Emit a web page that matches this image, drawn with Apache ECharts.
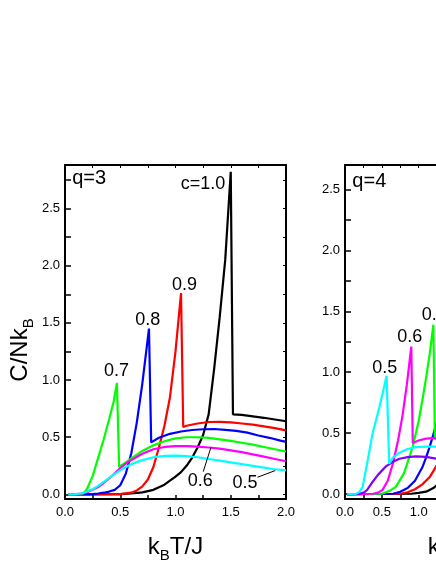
<!DOCTYPE html>
<html><head><meta charset="utf-8">
<script src="https://cdn.jsdelivr.net/npm/echarts@6/dist/echarts.min.js"></script>
<style>html,body{margin:0;padding:0;background:#fff}#c{width:436px;height:564px}</style>
</head><body><div id="c"></div>
<script>
// ---------- q = 3 panel (left) ----------
const T3_10 = [0.03, 0.5, 0.6, 0.7, 0.8, 0.9, 1.0, 1.05, 1.1, 1.15, 1.2, 1.25, 1.3, 1.35, 1.4, 1.45, 1.5, 1.52, 1.6, 1.7, 1.8, 1.9, 2.0];
const C3_10 = [0, 0.002, 0.008, 0.018, 0.04, 0.085, 0.155, 0.195, 0.25, 0.32, 0.41, 0.52, 0.70, 1.10, 1.55, 2.05, 2.82, 0.70, 0.695, 0.683, 0.67, 0.655, 0.64];
const T3_09 = [0.03, 0.5, 0.6, 0.65, 0.7, 0.75, 0.8, 0.85, 0.9, 0.95, 1.0, 1.05, 1.07, 1.1, 1.2, 1.3, 1.4, 1.5, 1.6, 1.7, 1.8, 1.9, 2.0];
const C3_09 = [0, 0.003, 0.015, 0.035, 0.07, 0.13, 0.24, 0.41, 0.6, 0.85, 1.25, 1.76, 0.59, 0.60, 0.62, 0.633, 0.635, 0.63, 0.62, 0.61, 0.595, 0.58, 0.56];
const T3_08 = [0.03, 0.25, 0.3, 0.35, 0.4, 0.45, 0.5, 0.55, 0.6, 0.65, 0.7, 0.76, 0.78, 0.85, 0.95, 1.05, 1.15, 1.25, 1.35, 1.45, 1.55, 1.65, 1.75, 1.85, 1.95, 2.0];
const C3_08 = [0, 0.003, 0.008, 0.015, 0.025, 0.04, 0.08, 0.18, 0.36, 0.63, 0.97, 1.45, 0.455, 0.495, 0.53, 0.55, 0.563, 0.57, 0.572, 0.565, 0.555, 0.54, 0.515, 0.495, 0.47, 0.46];
const T3_07 = [0.03, 0.15, 0.17, 0.2, 0.25, 0.3, 0.35, 0.4, 0.44, 0.47, 0.49, 0.55, 0.6, 0.7, 0.8, 0.9, 1.0, 1.1, 1.2, 1.3, 1.4, 1.5, 1.6, 1.7, 1.8, 1.9, 2.0];
const C3_07 = [0, 0.003, 0.01, 0.05, 0.16, 0.32, 0.48, 0.66, 0.81, 0.975, 0.24, 0.28, 0.315, 0.38, 0.43, 0.465, 0.49, 0.50, 0.50, 0.495, 0.482, 0.468, 0.452, 0.435, 0.415, 0.395, 0.375];
const T3_06 = [0.03, 0.1, 0.15, 0.2, 0.25, 0.3, 0.35, 0.4, 0.45, 0.5, 0.55, 0.6, 0.7, 0.8, 0.9, 1.0, 1.1, 1.2, 1.3, 1.4, 1.5, 1.6, 1.7, 1.8, 1.9, 2.0];
const C3_06 = [0, 0.002, 0.008, 0.02, 0.04, 0.065, 0.10, 0.14, 0.185, 0.23, 0.27, 0.30, 0.355, 0.395, 0.415, 0.422, 0.423, 0.418, 0.41, 0.40, 0.385, 0.37, 0.35, 0.33, 0.31, 0.29];
const T3_05 = [0.03, 0.1, 0.15, 0.2, 0.25, 0.3, 0.35, 0.4, 0.45, 0.5, 0.55, 0.6, 0.7, 0.8, 0.9, 1.0, 1.1, 1.2, 1.3, 1.4, 1.5, 1.6, 1.7, 1.8, 1.9, 2.0];
const C3_05 = [0, 0.003, 0.01, 0.025, 0.045, 0.075, 0.11, 0.145, 0.18, 0.21, 0.24, 0.265, 0.30, 0.325, 0.337, 0.34, 0.335, 0.325, 0.31, 0.295, 0.28, 0.265, 0.25, 0.235, 0.22, 0.21];

// ---------- q = 4 panel (right, cut off by the page edge) ----------
const T4_10 = [0.03, 0.9, 1.0, 1.1, 1.2, 1.3];
const C4_10 = [0, 0.003, 0.01, 0.02, 0.05, 0.1];
const T4_09 = [0.03, 0.75, 0.85, 0.95, 1.05, 1.15, 1.25, 1.3];
const C4_09 = [0, 0.003, 0.015, 0.04, 0.08, 0.14, 0.24, 0.3];
const T4_08 = [0.03, 0.65, 0.75, 0.85, 0.95, 1.05, 1.1, 1.15, 1.2, 1.25, 1.3];
const C4_08 = [0, 0.003, 0.02, 0.05, 0.11, 0.22, 0.30, 0.39, 0.49, 0.60, 0.72];
const T4_07 = [0.03, 0.5, 0.6, 0.69, 0.8, 0.92, 1.0, 1.05, 1.1, 1.15, 1.2, 1.22, 1.3];
const C4_07 = [0, 0.003, 0.025, 0.06, 0.17, 0.39, 0.6, 0.77, 0.95, 1.15, 1.39, 0.45, 0.47];
const T4_06 = [0.03, 0.38, 0.45, 0.51, 0.58, 0.65, 0.72, 0.78, 0.84, 0.9, 0.92, 1.0, 1.1, 1.2, 1.3];
const C4_06 = [0, 0.003, 0.012, 0.035, 0.11, 0.25, 0.44, 0.64, 0.9, 1.21, 0.42, 0.44, 0.455, 0.46, 0.462];
const T4_04 = [0.03, 0.2, 0.26, 0.3, 0.375, 0.45, 0.56, 0.65, 0.74, 0.85, 0.96, 1.1, 1.24, 1.3];
const C4_04 = [0, 0.003, 0.015, 0.035, 0.10, 0.16, 0.23, 0.265, 0.29, 0.303, 0.31, 0.305, 0.29, 0.285];
const T4_05 = [0.03, 0.15, 0.19, 0.24, 0.3, 0.375, 0.47, 0.565, 0.6, 0.65, 0.74, 0.85, 0.96, 1.1, 1.24, 1.3];
const C4_05 = [0, 0.003, 0.015, 0.06, 0.25, 0.50, 0.72, 0.97, 0.25, 0.30, 0.34, 0.37, 0.385, 0.39, 0.39, 0.39];

// ---------- ticks ----------
const xTicks3 = [0, 0.25, 0.5, 0.75, 1.0, 1.25, 1.5, 1.75, 2.0];
const xLabels3 = [0, 0.5, 1.0, 1.5, 2.0];
const xTicks4 = [0, 0.25, 0.5, 0.75, 1.0, 1.25, 1.5, 1.75, 2.0, 2.25, 2.5, 2.75, 3.0];
const xLabels4 = [0, 0.5, 1.0, 1.5, 2.0, 2.5, 3.0];
const yTicks3 = [0, 0.25, 0.5, 0.75, 1.0, 1.25, 1.5, 1.75, 2.0, 2.25, 2.5, 2.75];
const yTicks4 = [0, 0.25, 0.5, 0.75, 1.0, 1.25, 1.5, 1.75, 2.0, 2.25, 2.5];
const yLabels = [0, 0.5, 1.0, 1.5, 2.0, 2.5];

// ---------- annotations (data coordinates) ----------
const notes3 = [['q=3', 0.065, 2.76, 'left', 20], ['c=1.0', 1.248, 2.71, 'center', 18], ['0.9', 1.082, 1.832, 'center', 18],
  ['0.8', 0.748, 1.523, 'center', 18], ['0.7', 0.466, 1.078, 'center', 18], ['0.6', 1.225, 0.115, 'center', 18], ['0.5', 1.63, 0.100, 'center', 18]];
const arrows3 = [[[1.251, 0.199], [1.321, 0.412]], [[1.742, 0.150], [1.903, 0.209]]];
const notes4 = [['q=4', 0.10, 2.566, 'left', 20], ['0.5', 0.541, 1.034, 'center', 18], ['0.6', 0.880, 1.288, 'center', 18], ['0.7', 1.213, 1.47, 'center', 18]];

const FF = '"Liberation Sans", Arial, sans-serif';
const BLACK = '#000000';

function pairs(T, C) { return T.map((t, i) => [t, C[i]]); }

const titleRich = {
  a: { fontSize: 24, fontFamily: FF, color: BLACK, lineHeight: 30 },
  b: { fontSize: 15, fontFamily: FF, color: BLACK, lineHeight: 30, padding: [17, 0, 0, 0] }
};

function xAxisDef(gi, max, pos, ticks, labels, withName) {
  return {
    type: 'value', gridIndex: gi, min: 0, max: max, position: pos,
    axisLine: { onZero: false, lineStyle: { color: BLACK, width: 2 } },
    axisTick: { show: true, inside: true, length: pos === 'bottom' ? 4 : 3, customValues: ticks, lineStyle: { color: BLACK, width: pos === 'bottom' ? 1.5 : 1 } },
    axisLabel: { show: pos === 'bottom', customValues: labels, formatter: v => Number(v).toFixed(1), fontSize: 13, color: BLACK, fontFamily: FF, margin: 7, hideOverlap: false },
    splitLine: { show: false },
    name: withName ? '{a|k}{b|B}{a|T/J}' : '', nameLocation: 'middle', nameGap: 33,
    nameTextStyle: { rich: titleRich }
  };
}
function yAxisDef(gi, max, pos, ticks, labels) {
  return {
    type: 'value', gridIndex: gi, min: -0.04, max: max, position: pos,
    axisLine: { onZero: false, lineStyle: { color: BLACK, width: 2 } },
    axisTick: { show: true, inside: true, length: pos === 'left' ? 6 : 3, customValues: ticks, lineStyle: { color: BLACK, width: pos === 'left' ? 1.5 : 1 } },
    axisLabel: { show: pos === 'left', customValues: labels, formatter: v => Number(v).toFixed(1), fontSize: 13, color: BLACK, fontFamily: FF, margin: 5 },
    splitLine: { show: false }
  };
}

function line(xi, yi, T, C, color, extra) {
  return Object.assign({
    type: 'line', xAxisIndex: xi, yAxisIndex: yi, data: pairs(T, C),
    showSymbol: false, symbol: 'none', smooth: false, clip: true,
    lineStyle: { color: color, width: 2.2 }, itemStyle: { color: color }, animation: false
  }, extra || {});
}

function notesMark(notes) {
  return {
    symbol: 'circle', symbolSize: 1, silent: true, animation: false,
    itemStyle: { color: 'rgba(0,0,0,0)' },
    data: notes.map(n => ({
      name: n[0], coord: [n[1], n[2]],
      label: { show: true, position: 'inside', align: n[3], verticalAlign: 'middle', formatter: n[0], color: BLACK, fontSize: n[4], fontFamily: FF }
    }))
  };
}
function arrowMark(arrows) {
  return {
    silent: true, animation: false, symbol: ['none', 'arrow'], symbolSize: [0, 7],
    lineStyle: { color: BLACK, width: 1, type: 'solid' }, label: { show: false },
    data: arrows.map(a => [{ coord: a[0] }, { coord: a[1] }])
  };
}

const option = {
  backgroundColor: '#ffffff',
  animation: false,
  grid: [
    { left: 65, top: 165, width: 221, height: 334, containLabel: false, outerBoundsMode: 'none' },
    { left: 345, top: 165, width: 221, height: 334, containLabel: false, outerBoundsMode: 'none' }
  ],
  xAxis: [
    xAxisDef(0, 2.0, 'bottom', xTicks3, xLabels3, true),
    xAxisDef(0, 2.0, 'top', xTicks3, xLabels3, false),
    xAxisDef(1, 3.0, 'bottom', xTicks4, xLabels4, true),
    xAxisDef(1, 3.0, 'top', xTicks4, xLabels4, false)
  ],
  yAxis: [
    yAxisDef(0, 2.88, 'left', yTicks3, yLabels),
    yAxisDef(0, 2.88, 'right', yTicks3, yLabels),
    yAxisDef(1, 2.70, 'left', yTicks4, yLabels),
    yAxisDef(1, 2.70, 'right', yTicks4, yLabels)
  ],
  series: [
    line(0, 0, T3_10, C3_10, '#000000', { markPoint: notesMark(notes3) }),
    line(0, 0, T3_09, C3_09, '#ff0000'),
    line(0, 0, T3_08, C3_08, '#0000ff'),
    line(0, 0, T3_07, C3_07, '#00ff00'),
    line(0, 0, T3_06, C3_06, '#ff00ff'),
    line(0, 0, T3_05, C3_05, '#00ffff', { markLine: arrowMark(arrows3) }),
    line(2, 2, T4_10, C4_10, '#000000', { markPoint: notesMark(notes4) }),
    line(2, 2, T4_09, C4_09, '#ff0000'),
    line(2, 2, T4_08, C4_08, '#0000ff'),
    line(2, 2, T4_07, C4_07, '#00ff00'),
    line(2, 2, T4_06, C4_06, '#ff00ff'),
    line(2, 2, T4_04, C4_04, '#8000ff'),
    line(2, 2, T4_05, C4_05, '#00ffff')
  ],
  graphic: [
    {
      type: 'text', x: 20, y: 350, rotation: Math.PI / 2,
      style: {
        text: '{a|C/Nk}{b|B}', align: 'center', verticalAlign: 'middle',
        rich: titleRich
      }
    }
  ]
};

const chart = echarts.init(document.getElementById('c'), null, { renderer: 'canvas' });
chart.setOption(option);
</script></body></html>
